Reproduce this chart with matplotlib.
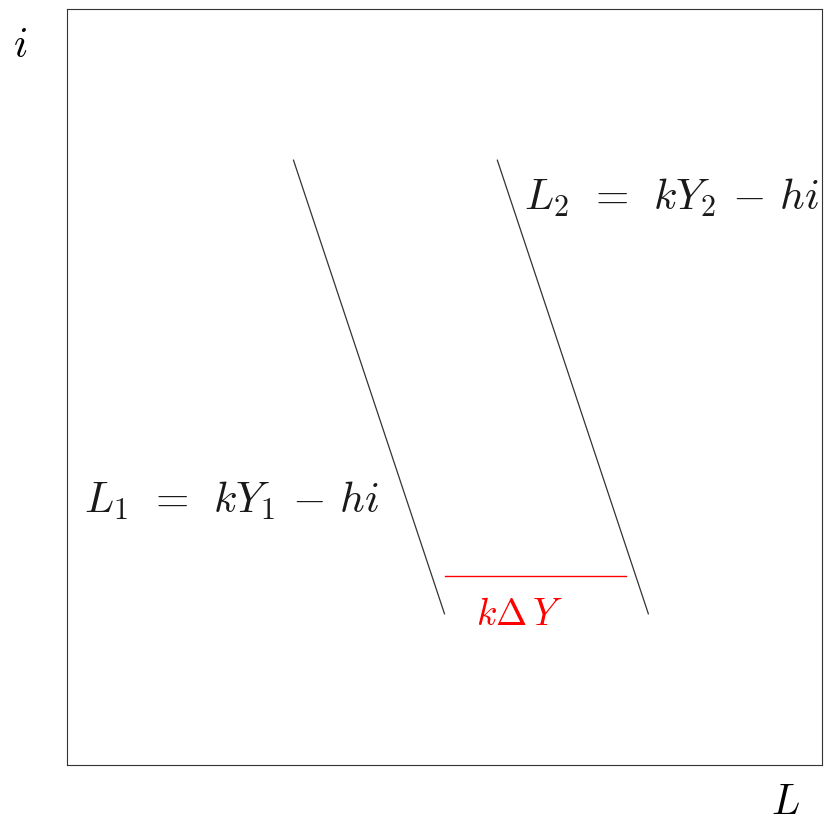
import matplotlib
matplotlib.use("Agg")
import matplotlib.pyplot as plt

plt.rcParams['mathtext.fontset'] = 'cm'

# Data (in axis units 0..10)
line1_x = [3.0, 5.0]
line1_y = [8.0, 2.0]
line2_x = [5.7, 7.7]
line2_y = [8.0, 2.0]
dY_x = [5.0, 7.4]
dY_y = [2.5, 2.5]

fig = plt.figure(figsize=(8.25, 8.24), dpi=100)
ax = fig.add_axes([67/825, 1-765/824, 755/825, 756/824])
ax.set_xlim(0, 10)
ax.set_ylim(0, 10)
ax.set_xticks([])
ax.set_yticks([])
for s in ax.spines.values():
    s.set_linewidth(0.8)
    s.set_color('#333333')

ax.plot(line1_x, line1_y, color='#333333', lw=0.9)
ax.plot(line2_x, line2_y, color='#333333', lw=0.9)
ax.plot(dY_x, dY_y, color='red', lw=1.0)

lab1 = r'$L_{\mathsf{1}}\;\,=\;\,kY_{\mathsf{1}}\,-\,hi$'
lab2 = r'$L_{\mathsf{2}}\;\,=\;\,kY_{\mathsf{2}}\,-\,hi$'
ax.text(4.13, 3.5, lab1, fontsize=31, ha='right', va='center', color='#1a1a1a')
ax.text(6.05, 7.5, lab2, fontsize=31, ha='left', va='center', color='#1a1a1a')
ax.text(5.99, 1.99, r'$k\boldsymbol{\Delta}\,Y$', fontsize=27, ha='center', va='center', color='red')

fig.text(20/825, 1-45/824, r'$i$', fontsize=30, ha='center', va='center')
fig.text(785/825, 1-802/824, r'$L$', fontsize=30, ha='center', va='center')

fig.savefig('out.png', dpi=100)
